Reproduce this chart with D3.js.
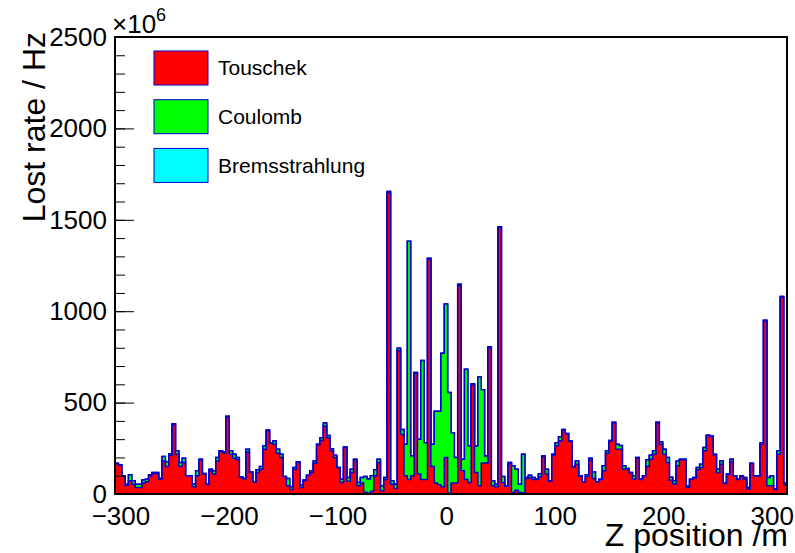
<!DOCTYPE html>
<html><head><meta charset="utf-8">
<script src="https://cdn.jsdelivr.net/npm/d3@7"></script>
<style>
body{margin:0;background:#fff;}
svg{display:block;}
text{font-family:"Liberation Sans", Arial, Helvetica, sans-serif;fill:#000;}
</style>
</head><body>
<svg id="c" width="795" height="553"></svg>
<script>
// Histogram binning (Z position, m)
const xMin = -305, xMax = 314, nBins = 200;

// Lost rate per bin (x10^6 Hz)
const touschek = [
165,158,98,48,72,54,36,36,60,67,100,112,112,82,181,150,210,380,217,150,
172,98,98,40,100,186,110,52,127,109,181,232,225,420,217,196,187,92,83,230,
119,65,118,136,245,346,278,272,223,199,94,45,25,136,174,36,74,101,118,168,
270,293,371,308,235,199,143,63,254,70,118,188,45,60,10,5,15,100,172,18,
80,1650,54,30,785,326,100,80,100,660,110,80,80,1285,150,60,50,40,200,5,
60,60,1140,127,80,63,598,118,45,170,170,800,45,40,1458,63,43,165,10,20,
10,5,85,90,80,79,95,205,110,70,214,264,290,350,328,287,148,163,98,65,
96,185,85,65,79,127,223,290,390,245,245,136,138,116,82,197,79,98,150,190,
217,390,272,217,172,75,55,154,188,188,36,79,88,132,145,236,320,315,215,118,
163,58,107,176,98,79,98,82,27,166,98,98,272,948,45,45,25,217,1078,50
];
const coulomb = [
3,2,2,6,33,18,18,18,16,14,5,6,6,3,24,26,10,4,19,22,
24,2,2,15,27,4,2,2,9,18,18,4,5,6,19,21,12,2,2,15,
2,2,14,14,18,4,3,18,22,18,2,40,15,9,2,13,2,2,9,13,
2,15,18,12,13,13,2,18,3,20,18,2,18,30,86,77,85,32,18,27,
10,5,18,24,12,27,172,1302,108,5,190,650,201,5,122,393,403,730,840,550,
275,140,7,63,603,200,5,145,595,400,38,6,27,14,4,33,2,7,144,116,
44,212,5,13,10,2,14,3,26,2,3,17,23,3,3,3,2,18,2,2,
9,11,36,2,2,27,13,3,3,27,21,18,2,2,18,2,2,2,37,22,
19,3,12,28,27,16,17,27,2,2,9,2,2,13,18,18,2,2,2,18,
18,2,2,14,2,2,2,8,9,2,2,2,9,3,45,55,2,19,3,10
];
const brems = [
0,0,0,0,0,0,0,0,0,0,0,0,0,0,0,0,0,0,0,0,
0,0,0,0,0,0,0,0,0,0,0,0,0,0,0,0,0,0,0,0,
0,0,0,0,0,0,0,0,0,0,0,0,0,0,0,0,0,0,0,0,
0,0,0,0,0,0,0,0,0,0,0,0,0,0,0,0,0,0,0,0,
0,0,0,0,0,0,0,0,0,0,0,0,0,0,0,0,0,0,0,0,
0,0,0,0,0,0,0,0,0,0,0,0,0,0,0,0,0,0,0,0,
0,0,0,0,0,0,0,0,0,0,0,0,0,0,0,0,0,0,0,0,
0,0,0,0,0,0,0,0,0,0,0,0,0,0,0,0,0,0,0,0,
0,0,0,0,0,0,0,0,0,0,0,0,0,0,0,0,0,0,0,0,
0,0,0,0,0,0,0,0,0,0,0,0,0,0,0,0,0,0,0,0
];

const seriesNames = ["Touschek", "Coulomb", "Bremsstrahlung"];
const seriesColors = ["#ff0000", "#00ff00", "#00ffff"];
const yTicks = [0, 500, 1000, 1500, 2000, 2500];
const yMinorStep = 100;
const xTicks = [-300, -200, -100, 0, 100, 200, 300];
const yMax = 2500;

const svg = d3.select("#c");
const P = {l:115, r:787, t:37, b:494};

const x = d3.scaleLinear().domain([xMin, xMax]).range([P.l, P.r]);
const y = d3.scaleLinear().domain([0, yMax]).range([P.b, P.t]);

const binW = (xMax - xMin) / nBins;
const edges = d3.range(nBins + 1).map(i => xMin + i * binW);

// cumulative stack
const series = [touschek, coulomb, brems];
const cum = [];
let run = new Array(nBins).fill(0);
series.forEach(s => { run = run.map((v,i) => v + s[i]); cum.push(run.slice()); });

svg.append("defs").append("clipPath").attr("id","clip")
  .append("rect").attr("x",P.l).attr("y",P.t).attr("width",P.r-P.l).attr("height",P.b-P.t);

const area = d3.area().x(d=>x(d[0])).y0(y(0)).y1(d=>y(d[1])).curve(d3.curveStepAfter);
const line = d3.line().x(d=>x(d[0])).y(d=>y(d[1])).curve(d3.curveStepAfter);

const gH = svg.append("g").attr("clip-path","url(#clip)");
for (let k = cum.length - 1; k >= 0; k--) {
  const vals = cum[k];
  const pts = vals.map((v,i)=>[edges[i], v]);
  pts.push([edges[nBins], vals[nBins-1]]);
  gH.append("path").attr("d", area(pts)).attr("fill", seriesColors[k]).attr("stroke","none");
  gH.append("path").attr("d", line(pts)).attr("fill","none")
    .attr("stroke","#0000cc").attr("stroke-width",1.5);
}

// Y axis minor ticks
const yMinor = d3.range(0, yMax + 1, yMinorStep);
svg.append("g").attr("transform",`translate(${P.l},0)`)
  .call(d3.axisLeft(y).tickValues(yMinor).tickSize(-10).tickFormat(""))
  .call(g=>g.select(".domain").remove())
  .selectAll("line").attr("stroke","#000").attr("stroke-width",1);

// Y axis major
const gy = svg.append("g").attr("transform",`translate(${P.l},0)`)
  .call(d3.axisLeft(y).tickValues(yTicks).tickSize(-19).tickPadding(8).tickFormat(d3.format("d")));
gy.select(".domain").remove();
gy.selectAll("line").attr("stroke","#000").attr("stroke-width",1);
gy.selectAll("text").attr("font-size",26).attr("font-family","Liberation Sans, Arial, sans-serif").attr("fill","#000");

// X axis labels
const gx = svg.append("g").attr("transform",`translate(0,${P.b})`)
  .call(d3.axisBottom(x).tickValues(xTicks).tickSize(0).tickPadding(13).tickFormat(d3.format("d")));
gx.select(".domain").remove();
gx.selectAll("text").attr("font-size",26).attr("font-family","Liberation Sans, Arial, sans-serif").attr("fill","#000");

// frame
svg.append("rect").attr("x",P.l).attr("y",P.t).attr("width",P.r-P.l).attr("height",P.b-P.t)
  .attr("fill","none").attr("stroke","#000").attr("stroke-width",2);

// exponent
const ex = svg.append("text").attr("x",112).attr("y",33).attr("font-size",26);
ex.append("tspan").text("×10");
ex.append("tspan").attr("font-size",18).attr("dy",-12).text("6");

// axis titles
svg.append("text").attr("transform","translate(45,32) rotate(-90)")
  .attr("text-anchor","end").attr("font-size",32).text("Lost rate / Hz");
svg.append("text").attr("x",788).attr("y",546)
  .attr("text-anchor","end").attr("font-size",32).text("Z position /m");

// legend
const lg = svg.append("g");
seriesNames.forEach((n,i)=>{
  const yy = 51 + i*48.7;
  lg.append("rect").attr("x",154).attr("y",yy).attr("width",54).attr("height",34)
    .attr("fill",seriesColors[i]).attr("stroke","#0000cc").attr("stroke-width",1);
  lg.append("text").attr("x",218).attr("y",yy+17).attr("dy","0.35em")
    .attr("font-size",21).text(n);
});
</script>
</body></html>
